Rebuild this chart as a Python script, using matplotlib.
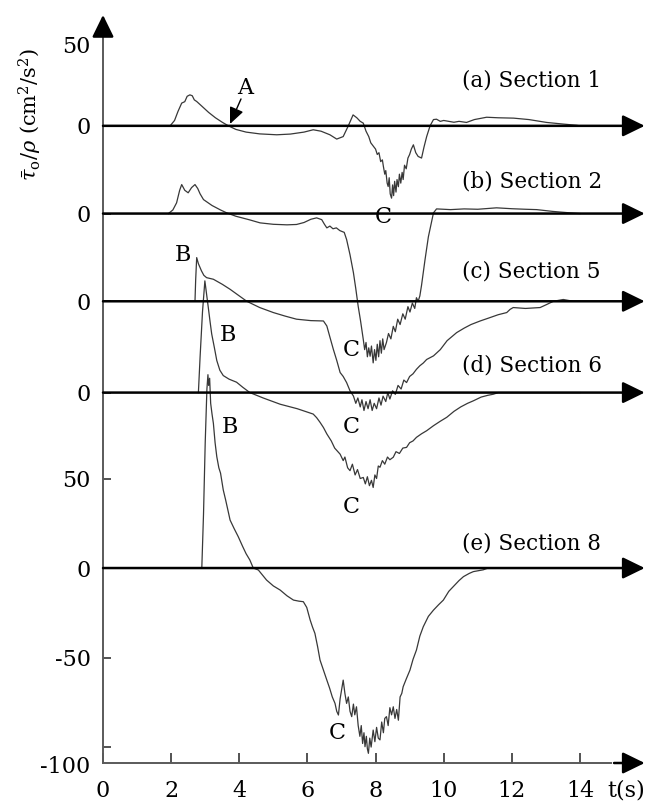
import numpy as np
import matplotlib
matplotlib.use('Agg')
from matplotlib import pyplot as plt
import matplotlib.transforms as mtransforms

plt.rcParams['font.family'] = ['DejaVu Serif']
plt.rcParams['mathtext.fontset'] = 'dejavuserif'

# vertical offsets of each section's zero line
offsets = {'1': 247, '2': 198, '5': 149, '6': 98, '8': 0}

# section 1
t1 = [1.97, 2.1, 2.2, 2.31, 2.4, 2.47, 2.55, 2.62, 2.68, 2.75, 2.9, 3.1, 3.3, 3.5, 3.68,
      3.9, 4.2, 4.6, 5.1, 5.5, 5.9, 6.17, 6.4, 6.66, 6.86, 7.05, 7.2, 7.34, 7.45, 7.55,
      7.64, 7.72, 7.8, 7.86, 7.94, 8.0, 8.05, 8.1, 8.15, 8.2, 8.23, 8.27, 8.3, 8.34, 8.37,
      8.4, 8.43, 8.47, 8.5, 8.53, 8.56, 8.6, 8.63, 8.67, 8.7, 8.74, 8.78, 8.81, 8.85, 8.9,
      8.95, 9.0, 9.05, 9.11, 9.18, 9.25, 9.35, 9.42, 9.5, 9.6, 9.7, 9.79, 9.9, 10.0, 10.18,
      10.3, 10.45, 10.67, 10.9, 11.26, 11.6, 12.05, 12.5, 13.02, 13.5, 13.9, 14.0]
v1 = [0, 3, 8, 12.7, 13.5, 16.5, 17.3, 16.8, 14.5, 13.6, 11, 7.5, 4.5, 2, 0,
      -2, -3.5, -4.5, -5, -4.6, -3.5, -2.2, -3, -5, -7.4, -6, 0, 6.1, 4.5, 2.5,
      1.5, -3, -6, -9.5, -11.5, -13, -16, -15, -20, -19, -22.7, -27, -25, -32, -33.9,
      -29, -38, -40.4, -33, -39, -31, -37, -30, -34, -27, -32, -26, -30, -22, -24,
      -18, -16, -13, -10.6, -15, -17.1, -18, -12, -6, 0, 3.5, 3.7, 2.5, 3, 2.4,
      2, 2.5, 1.9, 3.5, 4.8, 4.5, 4.3, 3.5, 1.9, 1, 0.3, 0]

# section 2
t2 = [1.92, 2.05, 2.16, 2.25, 2.31, 2.4, 2.5, 2.6, 2.7, 2.78, 2.85, 2.95, 3.2, 3.45, 3.63,
      3.9, 4.3, 4.61, 5.0, 5.4, 5.68, 5.9, 6.1, 6.27, 6.42, 6.5, 6.57, 6.66, 6.75, 6.85,
      6.95, 7.0, 7.08, 7.15, 7.25, 7.35, 7.42, 7.49, 7.56, 7.64, 7.68, 7.72, 7.76, 7.8, 7.84,
      7.88, 7.93, 7.97, 8.01, 8.05, 8.09, 8.13, 8.17, 8.21, 8.25, 8.32, 8.38, 8.45, 8.52, 8.58,
      8.65, 8.72, 8.8, 8.87, 8.95, 9.01, 9.08, 9.15, 9.2, 9.25, 9.3, 9.35, 9.45, 9.55, 9.7,
      9.79, 10.2, 10.6, 11.0, 11.55, 12.0, 12.4, 12.73, 13.2, 13.7, 14.0]
v2 = [0, 2, 6, 13, 16.2, 13, 11.6, 14.5, 16.2, 14, 11, 7.8, 4.5, 2, 0.4,
      -1.5, -3.5, -5.2, -6, -6.3, -6.1, -5, -3.2, -2.4, -3.4, -6, -8, -7, -8.5, -8,
      -9.5, -9.9, -10.5, -14.5, -23, -33, -42, -51.8, -60, -70.4, -76, -72, -80, -75, -79.7,
      -74, -83.4, -76, -82, -73, -80, -71, -78, -70, -76, -72, -67, -70, -63, -66,
      -59, -62, -56, -59, -52, -55, -50, -53, -47, -49, -46, -40, -26, -13, 0.4,
      2.6, 2.2, 2.6, 2.4, 3.2, 2.7, 2.4, 2.2, 1.2, 0.4, 0]

# section 5
t5 = [2.7, 2.72, 2.75, 2.8, 2.89, 2.96, 3.04, 3.24, 3.5, 3.73, 4.0, 4.22, 4.6, 5.0, 5.35,
      5.68, 6.1, 6.47, 6.57, 6.66, 6.76, 6.86, 6.96, 7.05, 7.15, 7.25, 7.35, 7.42, 7.48, 7.55,
      7.6, 7.66, 7.72, 7.78, 7.84, 7.9, 7.96, 8.03, 8.1, 8.16, 8.22, 8.3, 8.36, 8.42, 8.5,
      8.58, 8.66, 8.75, 8.83, 8.91, 9.0, 9.1, 9.2, 9.3, 9.4, 9.5, 9.7, 9.9, 10.1, 10.38,
      10.6, 10.8, 11.07, 11.3, 11.6, 11.85, 11.95, 12.04, 12.4, 12.83, 13.0, 13.22, 13.51, 13.8, 14.0]
v5 = [0, 12, 24.4, 21, 17, 14.5, 13.2, 12.3, 9.5, 6.7, 3, 0, -3.5, -6.3, -8.3,
      -10, -10.8, -11, -13.8, -20, -26.8, -33, -39.8, -42, -45.4, -50, -52.9, -57, -54, -59,
      -55, -61, -56, -60, -55, -61, -57, -60, -54, -58, -53, -56, -51, -54.6, -50,
      -52, -47, -49, -44, -45.4, -42, -40.5, -38, -36, -34.5, -32.5, -30.5, -27, -22, -17.5,
      -15, -13, -11, -9.5, -7.5, -6.3, -4.5, -3.5, -4, -3.5, -2, 0, 1, 0, 0]

# section 6
t6 = [2.8, 2.85, 2.92, 2.99, 3.04, 3.09, 3.14, 3.19, 3.27, 3.34, 3.43, 3.53, 3.7, 3.92, 4.1,
      4.31, 4.7, 5.2, 5.7, 6.17, 6.27, 6.37, 6.47, 6.57, 6.7, 6.8, 6.96, 7.05, 7.1, 7.18,
      7.25, 7.32, 7.4, 7.47, 7.55, 7.64, 7.7, 7.76, 7.82, 7.88, 7.93, 7.98, 8.03, 8.08, 8.13,
      8.2, 8.27, 8.35, 8.42, 8.52, 8.6, 8.7, 8.8, 8.91, 9.0, 9.1, 9.2, 9.35, 9.5, 9.7,
      9.9, 10.09, 10.3, 10.5, 10.7, 10.87, 11.1, 11.3, 11.46, 11.6, 14.0]
v6 = [0, 20, 45, 62.4, 55, 47.6, 40, 32.8, 25, 17.9, 12.5, 9.5, 7.5, 5.8, 3,
      0, -3, -6.5, -9, -12, -14, -16.6, -19.5, -23.1, -27, -31, -34.4, -38, -36, -42,
      -43.6, -40, -46, -43, -48, -47.4, -51, -47, -52, -49, -53, -46, -48, -41, -41.7,
      -38, -40, -36, -37.5, -36.1, -33, -34, -31, -30.6, -28, -27, -25, -23, -21.3, -18.5,
      -16, -13.8, -10.5, -8, -6, -4.6, -2.5, -1.5, -0.9, 0, 0]

# section 8
t8 = [2.9, 2.95, 3.0, 3.05, 3.08, 3.1, 3.13, 3.16, 3.2, 3.24, 3.29, 3.34, 3.4, 3.45, 3.53,
      3.6, 3.67, 3.73, 3.85, 3.97, 4.1, 4.2, 4.31, 4.41, 4.56, 4.8, 5.0, 5.2, 5.4, 5.59,
      5.75, 5.88, 5.98, 6.08, 6.15, 6.22, 6.3, 6.37, 6.47, 6.57, 6.65, 6.73, 6.81, 6.86, 6.91,
      6.96, 7.05, 7.1, 7.15, 7.2, 7.25, 7.3, 7.35, 7.39, 7.44, 7.49, 7.54, 7.58, 7.62, 7.66,
      7.69, 7.73, 7.76, 7.79, 7.83, 7.87, 7.93, 7.98, 8.03, 8.08, 8.13, 8.18, 8.23, 8.27, 8.32,
      8.37, 8.42, 8.47, 8.52, 8.57, 8.62, 8.67, 8.72, 8.77, 8.81, 8.9, 9.01, 9.1, 9.2, 9.3,
      9.4, 9.55, 9.7, 9.85, 9.99, 10.15, 10.28, 10.45, 10.58, 10.75, 10.87, 11.16, 11.3, 14.0]
v8 = [0, 30, 70, 100, 108, 102, 106, 92, 86, 80.8, 70, 62.2, 56, 53, 43.6,
      38, 32, 26.8, 22, 17.5, 12, 8, 4.5, 0, -1.1, -6.7, -10, -12.3, -15.5, -17.9,
      -18.5, -18.8, -22, -29, -33, -36.5, -44, -51.4, -57, -62.6, -67, -72, -75.6, -80, -82.1,
      -73, -62.6, -70, -75.6, -72, -80, -83, -76, -82, -77.5, -88, -94, -88, -98, -92,
      -99.8, -94, -101, -103.5, -95, -100, -90.5, -97, -89, -95, -96, -86, -92, -84, -83,
      -88, -78, -82, -77.5, -84, -79, -85, -72, -70, -66.3, -62, -57, -51, -45.8, -38,
      -32.8, -27, -23.5, -20.5, -17.9, -13, -10.4, -7, -4.8, -3, -2, -1, 0, 0]

series = [('1', t1, v1), ('2', t2, v2), ('5', t5, v5), ('6', t6, v6), ('8', t8, v8)]
sec_labels = {'1': '(a) Section 1', '2': '(b) Section 2', '5': '(c) Section 5',
              '6': '(d) Section 6', '8': '(e) Section 8'}

xticks = [0, 2, 4, 6, 8, 10, 12, 14]
yticks = [297, 247, 198, 149, 98, 50, 0, -50, -100]
ytick_labels = ['50', '0', '0', '0', '0', '50', '0', '-50', '-100']

fig = plt.figure(figsize=(6.6, 8.09), dpi=100)
ax = fig.add_axes([103/660, 46/809, 547/660, 753/809])
xmax = 547/34.07
ymin, ymax = -108.9, 311.7
ax.set_xlim(0, xmax)
ax.set_ylim(ymin, ymax)
for s in ax.spines.values():
    s.set_visible(False)

curve_col = '#383838'
for key, t, v in series:
    ax.plot(t, np.array(v) + offsets[key], color=curve_col, lw=0.9)

arrow_kw = dict(arrowstyle='-|>,head_length=0.45,head_width=0.22', color='black',
                lw=1.8, shrinkA=0, shrinkB=0, mutation_scale=30)
for key in offsets:
    ax.annotate('', xy=(15.9, offsets[key]), xytext=(0, offsets[key]),
                arrowprops=arrow_kw, annotation_clip=False)

# axes lines (grey) with black heads
axis_col = '#5a5a5a'
ytop = (568 - 15)/1.79
ax.plot([0, 14.9], [ymin, ymin], color=axis_col, lw=1.4, clip_on=False)
ax.plot([0, 0], [ymin, ytop - 8], color=axis_col, lw=1.4, clip_on=False)
ax.annotate('', xy=(15.9, ymin), xytext=(15.0, ymin), arrowprops=arrow_kw,
            annotation_clip=False)
ax.annotate('', xy=(0, ytop), xytext=(0, ytop - 10), arrowprops=arrow_kw,
            annotation_clip=False)

ax.set_xticks(xticks)
ax.set_xticklabels([str(x) for x in xticks])
ax.set_yticks(yticks)
ax.set_yticklabels(ytick_labels)
ax.tick_params(axis='x', direction='in', length=7, width=1.3, color='#444444',
               pad=12, labelsize=16)
ax.tick_params(axis='y', direction='in', length=6, width=1.3, color='#444444',
               pad=9, labelsize=16)
labs = ax.get_yticklabels()
labs[0].set_transform(labs[0].get_transform() +
                      mtransforms.ScaledTranslation(0, -8/100, fig.dpi_scale_trans))
labs[-1].set_transform(labs[-1].get_transform() +
                       mtransforms.ScaledTranslation(0, -17/100, fig.dpi_scale_trans))

def px(x, y):
    return (x - 103)/34.07, (568 - y)/1.79

lab_y = {'1': 81, '2': 182, '5': 272, '6': 365, '8': 543}
for key in offsets:
    ax.text(*px(462, lab_y[key]), sec_labels[key], fontsize=15.5, ha='left', va='center')

ax.text(*px(245, 88), 'A', fontsize=16, ha='center', va='center')
ax.annotate('', xy=px(230, 124), xytext=px(241, 99),
            arrowprops=dict(arrowstyle='-|>,head_length=0.5,head_width=0.22',
                            color='black', lw=1, mutation_scale=20, shrinkA=0, shrinkB=0))
for x, y in [(183, 255), (228, 335), (230, 427)]:
    ax.text(*px(x, y), 'B', fontsize=16, ha='center', va='center')
for x, y in [(383, 217), (351, 350), (351, 427), (351, 507), (337, 733)]:
    ax.text(*px(x, y), 'C', fontsize=16, ha='center', va='center')

ax.text(*px(626, 790), 't(s)', fontsize=16, ha='center', va='center', clip_on=False)
fig.text(30/660, 1 - 115/809, r'$\bar{\tau}_{\rm o}/\rho$ (cm$^2$/s$^2$)', fontsize=15,
         rotation=90, ha='center', va='center')

plt.savefig('out.png', dpi=100)
